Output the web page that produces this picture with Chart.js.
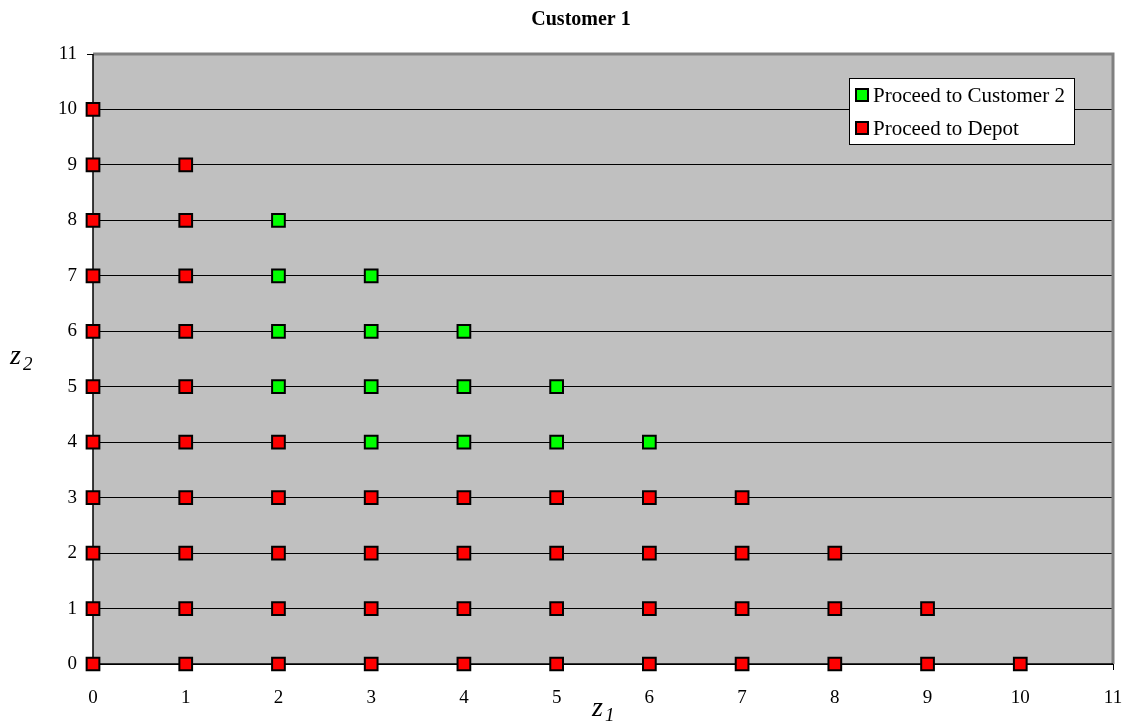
<!DOCTYPE html>
<html>
<head>
<meta charset="utf-8">
<title>Customer 1</title>
<script src="https://cdn.jsdelivr.net/npm/chart.js"></script>
<style>
  html, body { margin: 0; padding: 0; background: #fff; }
  #wrap { width: 1125px; height: 722px; }
</style>
</head>
<body>
<div id="wrap"><canvas id="chart"></canvas></div>
<script>
// points (z1, z2)
const greenX = [2, 2, 3, 2, 3, 4, 2, 3, 4, 5, 3, 4, 5, 6];
const greenY = [8, 7, 7, 6, 6, 6, 5, 5, 5, 5, 4, 4, 4, 4];
const redX = [0, 0, 1, 0, 1, 0, 1, 0, 1, 0, 1, 0, 1, 2,
              0, 1, 2, 3, 4, 5, 6, 7,
              0, 1, 2, 3, 4, 5, 6, 7, 8,
              0, 1, 2, 3, 4, 5, 6, 7, 8, 9,
              0, 1, 2, 3, 4, 5, 6, 7, 8, 9, 10];
const redY = [10, 9, 9, 8, 8, 7, 7, 6, 6, 5, 5, 4, 4, 4,
              3, 3, 3, 3, 3, 3, 3, 3,
              2, 2, 2, 2, 2, 2, 2, 2, 2,
              1, 1, 1, 1, 1, 1, 1, 1, 1, 1,
              0, 0, 0, 0, 0, 0, 0, 0, 0, 0, 0];
const seriesNames = ['Proceed to Customer 2', 'Proceed to Depot'];
const titleText = 'Customer 1';
const axisMin = 0, axisMax = 11;

const pairs = (xs, ys) => xs.map((x, i) => ({ x: x, y: ys[i] }));
const serif = '"Liberation Serif", "Times New Roman", serif';

const decor = {
  id: 'decor',
  beforeDraw(chart) {
    const { ctx, chartArea: a } = chart;
    ctx.save();
    ctx.fillStyle = '#c0c0c0';
    ctx.fillRect(a.left, a.top, a.right - a.left, a.bottom - a.top);
    ctx.restore();
  },
  beforeDatasetsDraw(chart) {
    const { ctx, chartArea: a } = chart;
    ctx.save();
    // gray top / right frame
    ctx.strokeStyle = '#808080';
    ctx.lineWidth = 3;
    ctx.beginPath();
    ctx.moveTo(a.left, a.top);
    ctx.lineTo(a.right, a.top);
    ctx.lineTo(a.right, a.bottom);
    ctx.stroke();
    // left and bottom axis lines
    ctx.strokeStyle = '#000';
    ctx.lineWidth = 1.5;
    ctx.beginPath();
    ctx.moveTo(a.left, a.top);
    ctx.lineTo(a.left, a.bottom);
    ctx.lineTo(a.right, a.bottom);
    ctx.stroke();
    ctx.restore();
  },
  afterDatasetsDraw(chart) {
    const { ctx } = chart;
    ctx.save();
    // title
    ctx.fillStyle = '#000';
    ctx.font = 'bold 20px ' + serif;
    ctx.textAlign = 'center';
    ctx.textBaseline = 'middle';
    ctx.fillText(titleText, 581, 20);

    // axis titles z1, z2
    ctx.textAlign = 'left';
    ctx.textBaseline = 'alphabetic';
    ctx.font = 'italic 28px ' + serif;
    ctx.fillText('z', 592, 716);
    ctx.fillText('z', 10, 364);
    ctx.font = 'italic 19px ' + serif;
    ctx.fillText('1', 605, 721);
    ctx.fillText('2', 23, 370);

    // legend box
    const lx = 849, ly = 78, lw = 225, lh = 66;
    ctx.fillStyle = '#fff';
    ctx.fillRect(lx, ly, lw, lh);
    ctx.strokeStyle = '#000';
    ctx.lineWidth = 1;
    ctx.strokeRect(lx + 0.5, ly + 0.5, lw, lh);
    chart.data.datasets.forEach((ds, i) => {
      const cy = ly + 17 + i * 33;
      ctx.fillStyle = ds.backgroundColor;
      ctx.fillRect(856, cy - 6, 12, 12);
      ctx.strokeStyle = '#000';
      ctx.lineWidth = 2;
      ctx.strokeRect(856, cy - 6, 12, 12);
      ctx.fillStyle = '#000';
      ctx.font = '21px ' + serif;
      ctx.textBaseline = 'middle';
      ctx.fillText(ds.label, 873, cy + 1);
    });
    ctx.restore();
  }
};

const pointStyleOpts = {
  borderColor: '#000',
  borderWidth: 2,
  pointStyle: 'rect',
  pointRadius: 9,
  pointHoverRadius: 9,
  clip: false
};

new Chart(document.getElementById('chart'), {
  type: 'scatter',
  data: {
    datasets: [
      Object.assign({ label: seriesNames[0], data: pairs(greenX, greenY), backgroundColor: '#00ff00' }, pointStyleOpts),
      Object.assign({ label: seriesNames[1], data: pairs(redX, redY), backgroundColor: '#ff0000' }, pointStyleOpts)
    ]
  },
  options: {
    responsive: true,
    maintainAspectRatio: false,
    animation: false,
    events: [],
    layout: { padding: { left: 33, right: 12, top: 54, bottom: 0 } },
    plugins: {
      legend: { display: false },
      title: { display: false },
      tooltip: { enabled: false }
    },
    scales: {
      x: {
        type: 'linear',
        min: axisMin,
        max: axisMax,
        afterFit(s) { s.height = 58; s.paddingLeft = 0; s.paddingRight = 0; },
        border: { display: false },
        grid: {
          drawOnChartArea: false,
          drawTicks: true,
          tickLength: 6,
          tickColor: '#000',
          lineWidth: 1
        },
        ticks: {
          stepSize: 1,
          padding: 17,
          color: '#000',
          font: { family: serif, size: 19 }
        }
      },
      y: {
        type: 'linear',
        min: axisMin,
        max: axisMax,
        afterFit(s) { s.width = 60; s.paddingTop = 0; s.paddingBottom = 0; },
        border: { display: false },
        grid: {
          drawTicks: true,
          tickLength: 6,
          tickColor: '#000',
          color: '#000',
          lineWidth: 1
        },
        ticks: {
          stepSize: 1,
          padding: 10,
          color: '#000',
          font: { family: serif, size: 19 }
        }
      }
    }
  },
  plugins: [decor]
});
</script>
</body>
</html>
